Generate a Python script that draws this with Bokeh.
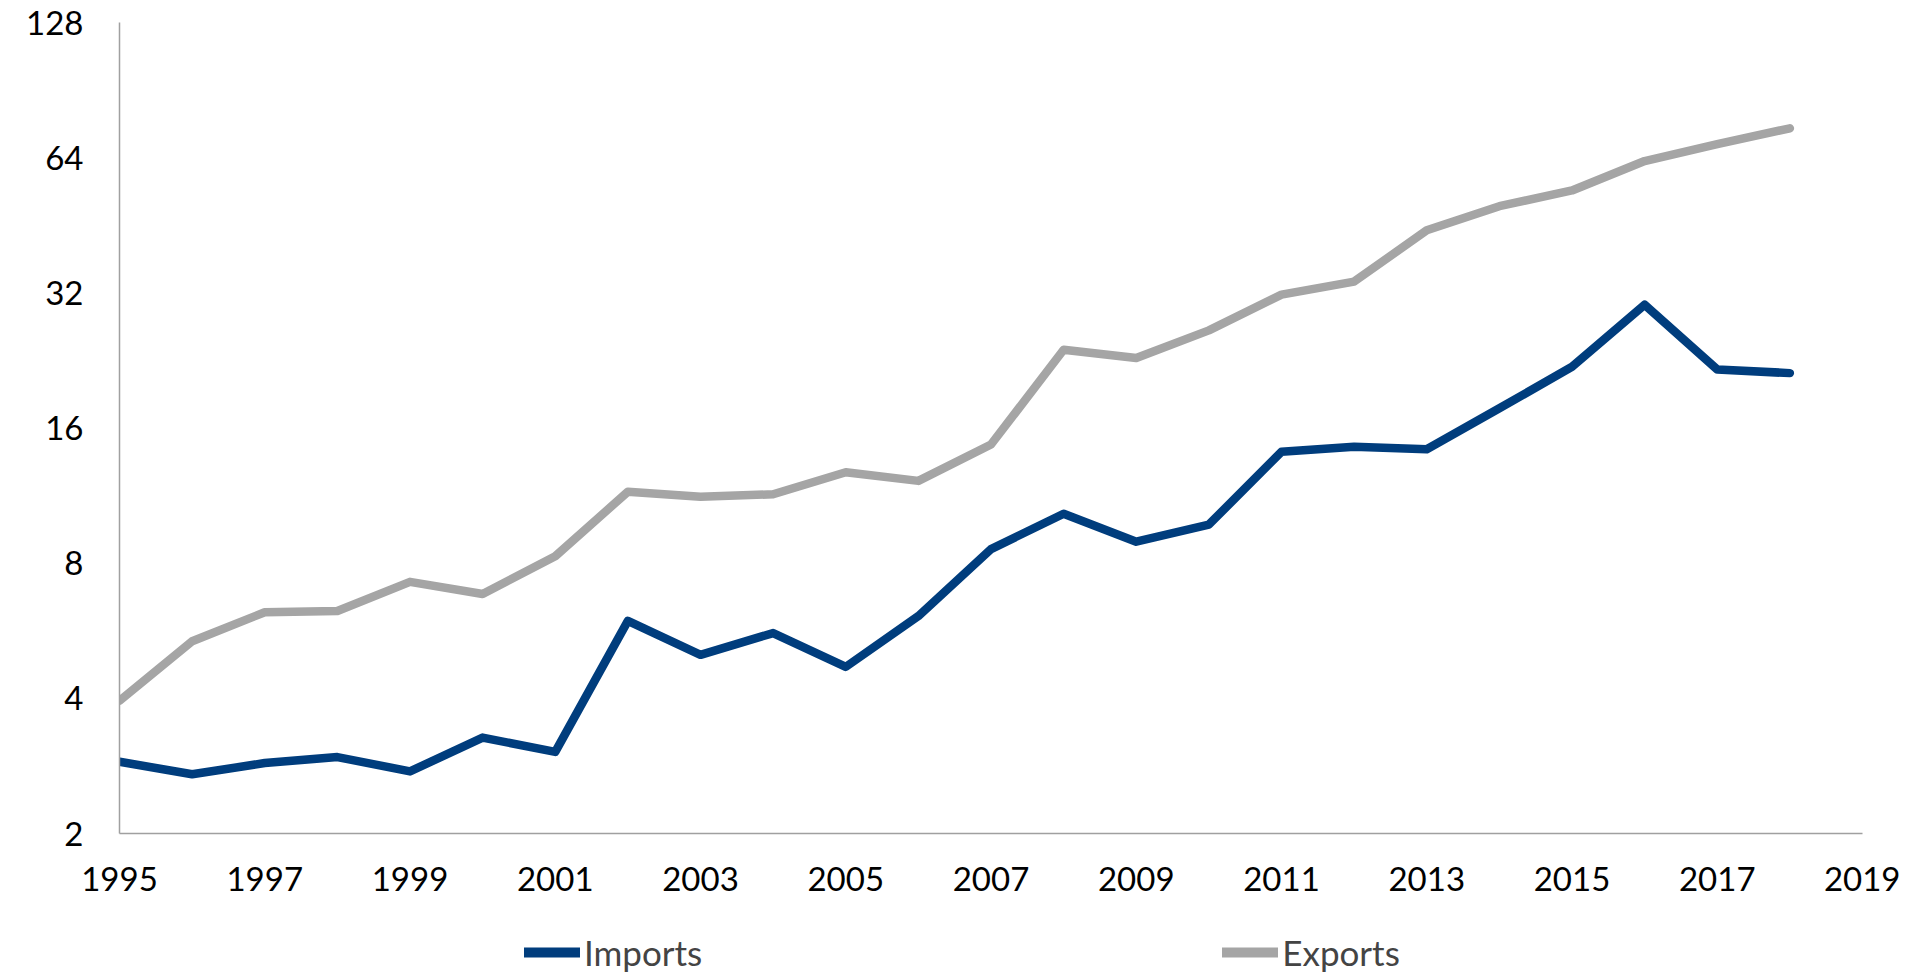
from bokeh.plotting import figure
from bokeh.layouts import column
from bokeh.models import FixedTicker, NumeralTickFormatter, Legend, LegendItem, Range1d, ColumnDataSource
from bokeh.embed import file_html
from bokeh.resources import INLINE

years = list(range(1995, 2019))
imports = [2.89, 2.71, 2.87, 2.96, 2.75, 3.27, 3.04, 5.95, 5.00, 5.59, 4.70, 6.10,
           8.60, 10.31, 8.93, 9.75, 14.17, 14.53, 14.35, 17.7, 21.9, 30.1, 21.6, 21.2]
exports = [3.95, 5.36, 6.22, 6.26, 7.27, 6.83, 8.29, 11.54, 11.25, 11.39, 12.75, 12.2,
           14.7, 23.9, 22.9, 26.4, 31.7, 33.9, 44.1, 49.9, 54.1, 62.9, 68.6, 74.4]
y_ticks = [2, 4, 8, 16, 32, 64, 128]
x_ticks = list(range(1995, 2020, 2))
series_names = ["Imports", "Exports"]
series_colors = ["#003D7D", "#A5A5A5"]

FONT = "Lato"
FS = "33px"
W = 1900

p = figure(width=W, height=915, y_axis_type="log", output_backend="svg",
           toolbar_location=None, x_range=Range1d(1995, 2019), y_range=Range1d(2, 128),
           min_border_left=119, min_border_right=W - 1862, min_border_top=22, min_border_bottom=82)
p.outline_line_color = None
p.grid.grid_line_color = None

src = ColumnDataSource(dict(year=years, imports=imports, exports=exports))
p.line("year", "imports", source=src, line_color=series_colors[0], line_width=8.5,
       line_cap="round", line_join="round")
p.line("year", "exports", source=src, line_color=series_colors[1], line_width=8.5,
       line_cap="round", line_join="round")

for ax in (p.xaxis, p.yaxis):
    ax.axis_line_color = "#A0A0A0"
    ax.axis_line_width = 1.5
    ax.major_tick_line_color = None
    ax.minor_tick_line_color = None
    ax.major_tick_out = 0
    ax.major_tick_in = 0
    ax.major_label_text_font = FONT
    ax.major_label_text_font_size = FS
    ax.major_label_text_color = "black"

p.yaxis.ticker = FixedTicker(ticks=y_ticks, minor_ticks=[])
p.yaxis.formatter = NumeralTickFormatter(format="0")
p.yaxis.major_label_standoff = 36
p.xaxis.ticker = FixedTicker(ticks=x_ticks, minor_ticks=[])
p.xaxis.major_label_standoff = 33

# legend strip below the chart (its ranges keep the proxy lines out of view)
H2 = 58
p2 = figure(width=W, height=H2, output_backend="svg", toolbar_location=None,
            x_range=Range1d(0, 1), y_range=Range1d(0, 1),
            x_axis_location=None, y_axis_location=None,
            min_border_left=0, min_border_right=0, min_border_top=0, min_border_bottom=0)
p2.outline_line_color = None
p2.grid.grid_line_color = None
items = []
for name, col, vals in zip(series_names, series_colors, [imports, exports]):
    r = p2.line(x=years, y=vals, line_color=col, line_width=10, line_cap="round")
    items.append(LegendItem(label=name, renderers=[r]))

legend = Legend(items=items, orientation="horizontal", location=(405, 0),
                padding=0, margin=0, spacing=520, glyph_width=56, glyph_height=20,
                label_standoff=4, label_height=30, label_text_font=FONT,
                label_text_font_size="35px", border_line_color=None,
                background_fill_alpha=0)
p2.add_layout(legend)

layout = column(p, p2, spacing=0)
open("out.html", "w").write(file_html(layout, INLINE))
